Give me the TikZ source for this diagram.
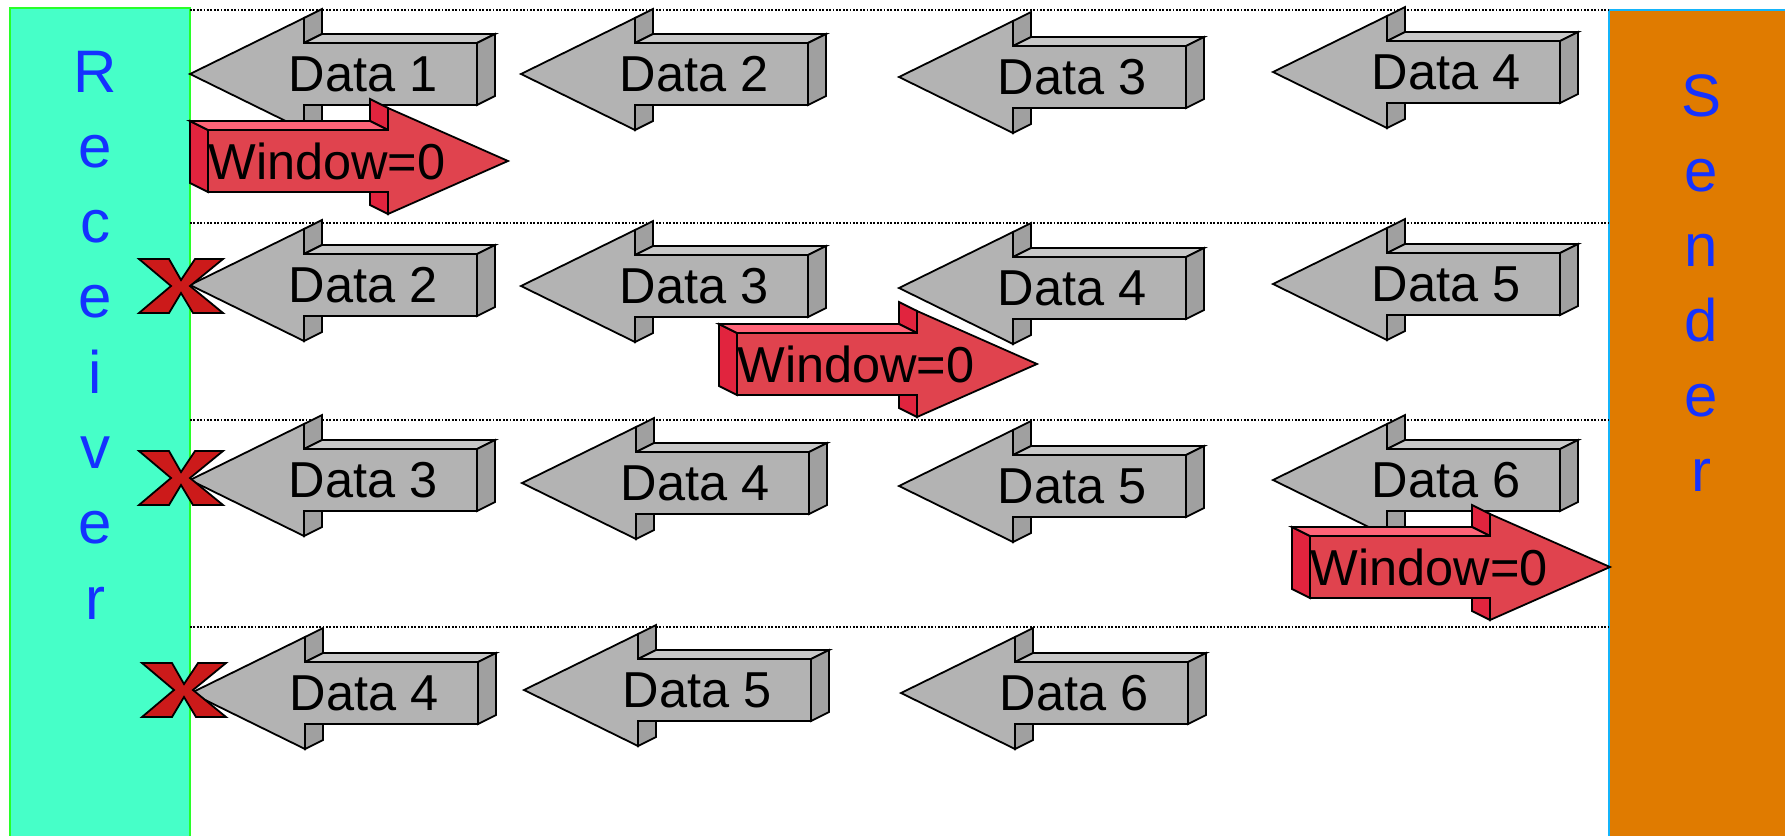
\documentclass[tikz,border=0pt]{standalone}
\usepackage{fontspec}
\setmainfont{Liberation Sans}
\usetikzlibrary{positioning}

\definecolor{rcvfill}{RGB}{70,255,200}
\definecolor{rcvline}{RGB}{40,255,40}
\definecolor{sndfill}{RGB}{224,123,0}
\definecolor{sndline}{RGB}{20,180,250}
\definecolor{letterblue}{RGB}{20,50,255}
\definecolor{pktfront}{RGB}{179,179,179}
\definecolor{pkttop}{RGB}{200,200,200}
\definecolor{pktside}{RGB}{160,160,160}
\definecolor{winfront}{RGB}{224,67,78}
\definecolor{wintop}{RGB}{255,100,120}
\definecolor{winside}{RGB}{225,36,62}
\definecolor{lossred}{RGB}{204,26,26}

% data packet going left: name, tip x, centre y, text
\newcommand{\dataarrow}[4]{
        \filldraw[face,fill=pktside] ({#2+114},{#3-56}) -- ({#2+132},{#3-65}) -- ({#2+132},{#3-40}) -- ({#2+114},{#3-31}) -- cycle;
        \filldraw[face,fill=pkttop] ({#2+114},{#3-31}) -- ({#2+132},{#3-40}) -- ({#2+305},{#3-40}) -- ({#2+287},{#3-31}) -- cycle;
        \filldraw[face,fill=pktside] ({#2+287},{#3-31}) -- ({#2+305},{#3-40}) -- ({#2+305},{#3+22}) -- ({#2+287},{#3+31}) -- cycle;
        \filldraw[face,fill=pktside] ({#2+114},{#3+31}) -- ({#2+132},{#3+22}) -- ({#2+132},{#3+47}) -- ({#2+114},{#3+56}) -- cycle;
        \filldraw[face,fill=pktfront] (#2,#3) -- ({#2+114},{#3-56}) -- ({#2+114},{#3-31}) -- ({#2+287},{#3-31})
              -- ({#2+287},{#3+31}) -- ({#2+114},{#3+31}) -- ({#2+114},{#3+56}) -- cycle;
        \node[lbl] (#1) at ({#2+173},#3) {#4};
}

% window advert going right: name, left x, centre y
\newcommand{\winarrow}[3]{
        \filldraw[face,fill=winside] ({#2+162},{#3-62}) -- ({#2+180},{#3-53}) -- ({#2+180},{#3-31}) -- ({#2+162},{#3-40}) -- cycle;
        \filldraw[face,fill=winside] (#2,{#3-31}) -- ({#2-18},{#3-40}) -- ({#2-18},{#3+22}) -- (#2,{#3+31}) -- cycle;
        \filldraw[face,fill=wintop] (#2,{#3-31}) -- ({#2-18},{#3-40}) -- ({#2+162},{#3-40}) -- ({#2+180},{#3-31}) -- cycle;
        \filldraw[face,fill=winside] ({#2+180},{#3+31}) -- ({#2+162},{#3+22}) -- ({#2+162},{#3+44}) -- ({#2+180},{#3+53}) -- cycle;
        \filldraw[face,fill=winfront] (#2,{#3-31}) -- ({#2+180},{#3-31}) -- ({#2+180},{#3-53}) -- ({#2+300},#3)
              -- ({#2+180},{#3+53}) -- ({#2+180},{#3+31}) -- (#2,{#3+31}) -- cycle;
        \node[lbl] (#1) at ({#2+119},#3) {Window=0};
}

% lost packet cross: centre x, centre y
\newcommand{\lossmark}[2]{
        \filldraw[face,fill=lossred] ({#1-42},{#2-27}) -- ({#1-12},{#2-27}) -- (#1,{#2-6}) -- ({#1+14},{#2-27})
              -- ({#1+42},{#2-27}) -- ({#1+9},#2) -- ({#1+42},{#2+27}) -- ({#1+12},{#2+27}) -- (#1,{#2+7})
              -- ({#1-12},{#2+27}) -- ({#1-42},{#2+27}) -- ({#1-10},#2) -- cycle;
}

\begin{document}
\begin{tikzpicture}[x=1pt,y=-1pt,
        face/.style={draw=black,line width=1.8pt},
        lbl/.style={font=\fontsize{50.5}{60}\selectfont,inner sep=0pt},
        side/.style={font=\fontsize{60}{72}\selectfont,text=letterblue,anchor=base,inner sep=0pt},
        sep/.style={line width=1.8pt,dash pattern=on 1.8pt off 1.6pt}]
        \useasboundingbox (0,0) rectangle (1785,835);

        \filldraw[fill=rcvfill,draw=rcvline,line width=2pt] (10,840) -- (10,8) -- (190,8) -- (190,840);
        \filldraw[fill=sndfill,draw=sndline,line width=2pt] (1609,840) -- (1609,10) -- (1790,10) -- (1790,840);

        \foreach \c [count=\i] in {R,e,c,e,i,v,e,r}
              \node[side] (rcv\i) at (95,{92+75.3*(\i-1)}) {\c};
        \foreach \c [count=\i] in {S,e,n,d,e,r}
              \node[side] (snd\i) at (1701,{116+75*(\i-1)}) {\c};

        \draw[sep] (190,10) -- (1609,10);
        \draw[sep] (190,223) -- (1609,223);
        \draw[sep] (190,420) -- (1609,420);
        \draw[sep] (190,627) -- (1609,627);

        \dataarrow{R1D1}{190}{74}{Data 1}
        \dataarrow{R1D2}{521}{74}{Data 2}
        \dataarrow{R1D3}{899}{77}{Data 3}
        \dataarrow{R1D4}{1273}{72}{Data 4}
        \winarrow{R1W}{208}{161}

        \dataarrow{R2D2}{190}{285}{Data 2}
        \dataarrow{R2D3}{521}{286}{Data 3}
        \dataarrow{R2D4}{899}{288}{Data 4}
        \dataarrow{R2D5}{1273}{284}{Data 5}
        \winarrow{R2W}{737}{364}
        \lossmark{181}{286}

        \dataarrow{R3D3}{190}{480}{Data 3}
        \dataarrow{R3D4}{522}{483}{Data 4}
        \dataarrow{R3D5}{899}{486}{Data 5}
        \dataarrow{R3D6}{1273}{480}{Data 6}
        \winarrow{R3W}{1310}{567}
        \lossmark{181}{478}

        \dataarrow{R4D4}{191}{693}{Data 4}
        \dataarrow{R4D5}{524}{690}{Data 5}
        \dataarrow{R4D6}{901}{693}{Data 6}
        \lossmark{184}{690}
\end{tikzpicture}
\end{document}
